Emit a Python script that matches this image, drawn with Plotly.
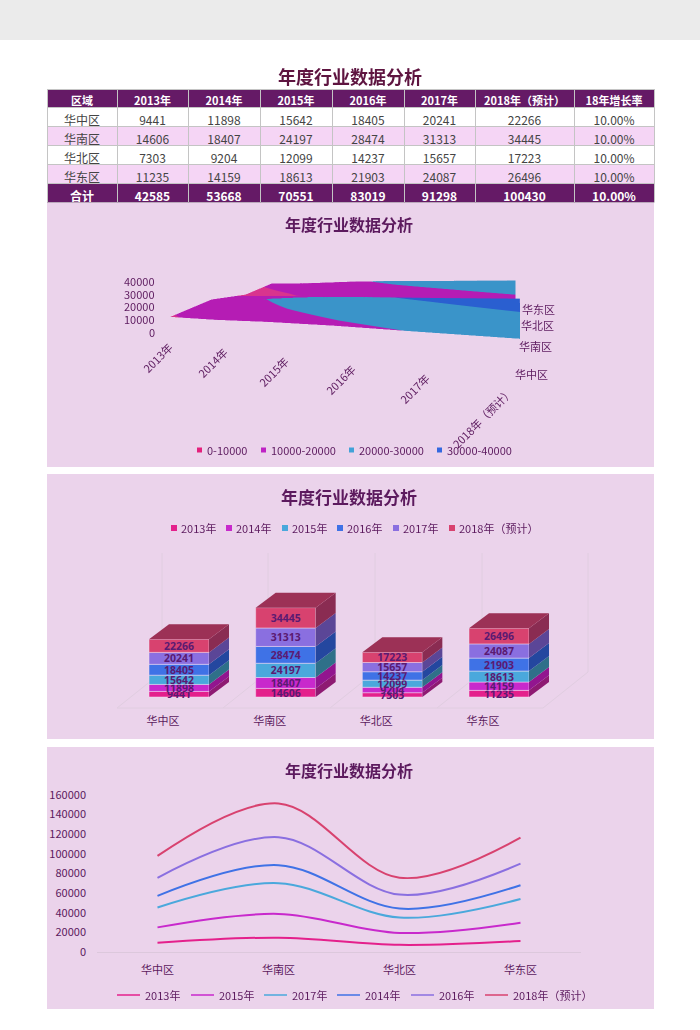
import plotly.graph_objects as go

# data read from the sheet
regions = ['华中区', '华南区', '华北区', '华东区']
years = ['2013年', '2014年', '2015年', '2016年', '2017年', '2018年（预计）']
y2013 = [9441, 14606, 7303, 11235]
y2014 = [11898, 18407, 9204, 14159]
y2015 = [15642, 24197, 12099, 18613]
y2016 = [18405, 28474, 14237, 21903]
y2017 = [20241, 31313, 15657, 24087]
y2018 = [22266, 34445, 17223, 26496]
totals = [42585, 53668, 70551, 83019, 91298, 100430]
growth = ['10.00%', '10.00%', '10.00%', '10.00%']
growth_total = '10.00%'
bands = ['0-10000', '10000-20000', '20000-30000', '30000-40000']
z_ticks = [0, 10000, 20000, 30000, 40000]
line_ticks = [0, 20000, 40000, 60000, 80000, 100000, 120000, 140000, 160000]

series = [y2013, y2014, y2015, y2016, y2017, y2018]
title_text = '年度行业数据分析'

FONT = 'Noto Sans CJK SC'
PURPLE = '#651a66'
TEXT = '#5c1a5e'
PANEL = '#ebd3eb'
GRID = '#e0cde0'
year_colors = ['#e4208c', '#c829cc', '#4aa8dc', '#3f72e6', '#8a6fe0', '#d8426f']
side_colors = ['#8e1a72', '#92158f', '#2f7089', '#24479f', '#5b4697', '#8a2c52']
top_color = '#9c3156'
band_colors = ['#d9348e', '#b51cb4', '#3a94c9', '#2a5fd0']
legend_band_colors = ['#e4207c', '#bf22c4', '#42a2d8', '#3368e0']


def px(x):
    return x / 700


def py(y):
    return 1 - y / 1030


fig = go.Figure()

# page and panels
shapes = [
    dict(type='rect', xref='paper', yref='paper', x0=0, x1=1, y0=py(40), y1=1,
         fillcolor='#ebebeb', line_width=0, layer='below'),
]
for top, bottom in [(203, 467), (474, 739), (747, 1009)]:
    shapes.append(dict(type='rect', xref='paper', yref='paper', x0=px(47), x1=px(654),
                       y0=py(bottom), y1=py(top), fillcolor=PANEL, line_width=0, layer='below'))

# floor and walls behind the columns
for xb in [162, 268, 375, 482, 588]:
    shapes.append(dict(type='line', xref='paper', yref='paper', x0=px(xb), x1=px(xb),
                       y0=py(553), y1=py(672), line=dict(color=GRID, width=1), layer='below'))
    shapes.append(dict(type='line', xref='paper', yref='paper', x0=px(xb), x1=px(xb - 45),
                       y0=py(672), y1=py(708), line=dict(color=GRID, width=1), layer='below'))
shapes.append(dict(type='line', xref='paper', yref='paper', x0=px(117), x1=px(543),
                   y0=py(708), y1=py(708), line=dict(color=GRID, width=1), layer='below'))

annotations = []


def label(x, y, text, size=11, color=TEXT, anchor='center', angle=0, bold=False):
    annotations.append(dict(xref='paper', yref='paper', x=px(x), y=py(y), text='<b>%s</b>' % text if bold else text,
                            showarrow=False, xanchor=anchor, yanchor='middle', textangle=angle,
                            font=dict(family=FONT, size=size, color=color)))


label(350, 76, title_text, size=18, bold=True, color='#5e1440')
label(349, 224, title_text, size=16, bold=True)
label(349, 496, title_text, size=17, bold=True)
label(349, 770, title_text, size=16, bold=True)

# table, the total row is a second table so it can be bold
col_widths = [70, 71, 72, 72, 72, 71, 99, 80]
header = ['区域'] + years + ['18年增长率']
cols = [regions]
for s in series:
    cols.append([str(v) for v in s])
cols.append(growth)
row_fill = ['white', '#f5d5f5', 'white', '#f5d5f5']
total_row = ['合计'] + [str(v) for v in totals] + [growth_total]
fig.add_trace(go.Table(
    domain=dict(x=[px(47), px(654)], y=[py(183.5), py(89)]),
    columnwidth=col_widths,
    header=dict(values=header, height=18.5, fill_color=PURPLE, align='center',
                line=dict(color='#c4c4c4', width=1),
                font=dict(family=FONT, size=11, color='white', weight='bold')),
    cells=dict(values=cols, height=19, align='center',
               fill_color=[row_fill] * len(cols),
               line=dict(color='#c4c4c4', width=1),
               font=dict(family=FONT, size=12, color='#444444')),
))
fig.add_trace(go.Table(
    domain=dict(x=[px(47), px(654)], y=[py(202.5), py(183.5)]),
    columnwidth=col_widths,
    header=dict(values=total_row, height=19, fill_color=PURPLE, align='center',
                line=dict(color='#c4c4c4', width=1),
                font=dict(family=FONT, size=12, color='white', weight='bold')),
))

# surface chart
z_rows = [[s[r] for s in series] for r in range(len(regions))]
stepped = []
for i, c in enumerate(band_colors):
    stepped.append([i / 4, c])
    stepped.append([(i + 1) / 4, c])
fig.add_trace(go.Surface(
    x=list(range(len(years))), y=list(range(len(regions))), z=z_rows,
    cmin=0, cmax=40000, colorscale=stepped, showscale=False,
    lighting=dict(ambient=0.9, diffuse=0.2, specular=0, roughness=1),
))
fig.update_layout(scene=dict(
    domain=dict(x=[px(47), px(653)], y=[py(467), py(203)]),
    xaxis=dict(visible=False, range=[0, 5]),
    yaxis=dict(visible=False, range=[0, 3]),
    zaxis=dict(visible=False, range=[0, 40000]),
    aspectmode='manual',
    aspectratio=dict(x=3.2909, y=1.7211, z=0.3889),
    camera=dict(eye=dict(x=1.4964, y=-2.9815, z=0.7834),
                center=dict(x=0.3983, y=-0.722, z=-0.136),
                up=dict(x=0.0143, y=0.0907, z=1)),
))
for v, yy in zip(z_ticks, [332, 319, 306, 294, 281]):
    label(157, yy, str(v), anchor='right')
for r, xx, yy in zip(regions, [531, 535, 537, 538], [374, 346, 325, 309]):
    label(xx, yy, r)
for t, xx, yy in zip(years, [157, 212, 273, 340, 414, 482], [358, 363, 372, 380, 389, 418]):
    label(xx, yy, t, angle=-45)

# legends, square or short line swatch in front of the text
for b, c, xx in zip(bands, legend_band_colors, [197, 261, 349, 437]):
    shapes.append(dict(type='rect', xref='paper', yref='paper', x0=px(xx), x1=px(xx + 5),
                       y0=py(452.5), y1=py(447.5), fillcolor=c, line_width=0))
    label(xx + 8, 450, b, anchor='left')
for t, c, xx in zip(years, year_colors, [171, 226, 282, 337, 393, 449]):
    shapes.append(dict(type='rect', xref='paper', yref='paper', x0=px(xx), x1=px(xx + 6),
                       y0=py(531), y1=py(525), fillcolor=c, line_width=0))
    label(xx + 8, 528, t, anchor='left')

# stacked columns, front face is a real bar, side and top faces share its scale
unit_x = 106.67
unit_y = 0.00059
bar_w = 60 / unit_x
depth_x = 20 / unit_x
depth_y = 15 / unit_y
xpos = list(range(len(regions)))

bottoms = [0] * len(regions)
for s, name, col, side in zip(series, years, year_colors, side_colors):
    xs, ys = [], []
    for i in xpos:
        right = i + bar_w / 2
        lo = bottoms[i]
        hi = lo + s[i]
        xs += [right, right + depth_x, right + depth_x, right, right, None]
        ys += [lo, lo + depth_y, hi + depth_y, hi, lo, None]
    fig.add_trace(go.Scatter(x=xs, y=ys, xaxis='x', yaxis='y', mode='lines', fill='toself',
                             fillcolor=side, line=dict(width=0), hoverinfo='skip', showlegend=False))
    fig.add_trace(go.Bar(x=xpos, y=s, base=bottoms[:], name=name, xaxis='x', yaxis='y', width=bar_w,
                         marker=dict(color=col, line=dict(color='#f3dff3', width=0.5)),
                         text=[str(v) for v in s], textposition='inside', insidetextanchor='middle',
                         textangle=0, constraintext='none', cliponaxis=False,
                         textfont=dict(family='Noto Sans', size=10.5, color='#5b1a72', weight='bold'),
                         showlegend=False))
    bottoms = [b + v for b, v in zip(bottoms, s)]

xs, ys = [], []
for i in xpos:
    left = i - bar_w / 2
    right = i + bar_w / 2
    top = bottoms[i]
    xs += [left, left + depth_x, right + depth_x, right, left, None]
    ys += [top, top + depth_y, top + depth_y, top, top, None]
fig.add_trace(go.Scatter(x=xs, y=ys, xaxis='x', yaxis='y', mode='lines', fill='toself',
                         fillcolor=top_color, line=dict(width=0), hoverinfo='skip', showlegend=False))

# stacked lines, the sheet stacks them in this odd order, colours go by position
line_order = [0, 2, 4, 1, 3, 5]
fig.add_trace(go.Scatter(
    x=[v for i in xpos for v in (i, i, None)],
    y=[v for t in bottoms for v in (0, t, None)],
    xaxis='x2', yaxis='y2', mode='lines', line=dict(color='#d3bfd3', width=1),
    hoverinfo='skip', showlegend=False))
for k, col, xx in zip(line_order, year_colors, [117, 191, 264, 337, 411, 485]):
    fig.add_trace(go.Scatter(x=regions, y=series[k], name=years[k], xaxis='x2', yaxis='y2',
                             mode='lines', stackgroup='one', fill='none',
                             line=dict(color=col, width=2, shape='spline', smoothing=1.0),
                             showlegend=False))
    shapes.append(dict(type='line', xref='paper', yref='paper', x0=px(xx), x1=px(xx + 23),
                       y0=py(995), y1=py(995), line=dict(color=col, width=1.5)))
    label(xx + 26, 995, years[k], anchor='left')

fig.update_layout(
    width=700, height=1030, autosize=False,
    margin=dict(l=0, r=0, t=0, b=0, autoexpand=False),
    paper_bgcolor='white', plot_bgcolor='rgba(0,0,0,0)',
    barmode='overlay', showlegend=False,
    shapes=shapes, annotations=annotations,
    font=dict(family=FONT, size=11, color=TEXT),
    xaxis=dict(domain=[px(47), px(653)], range=[(47 - 179) / unit_x, (653 - 179) / unit_x],
               tickmode='array', tickvals=[i - 16 / unit_x for i in xpos], ticktext=regions,
               showgrid=False, zeroline=False, showline=False, ticks='', anchor='y',
               tickfont=dict(family=FONT, size=11, color=TEXT)),
    yaxis=dict(domain=[py(713), py(540)], range=[-16 / unit_y, 157 / unit_y], visible=False, anchor='x'),
    xaxis2=dict(domain=[px(97), px(581)], range=[-0.5, 3.5], type='category',
                categoryorder='array', categoryarray=regions, showgrid=False, zeroline=False,
                showline=True, linecolor='#dcc8dc', linewidth=1, ticks='', ticklabelstandoff=8, anchor='y2',
                tickfont=dict(family=FONT, size=11, color=TEXT)),
    yaxis2=dict(domain=[py(952), py(795)], range=[0, 160000], tickmode='array', tickvals=line_ticks,
                tickformat='d', showgrid=False, zeroline=False, showline=False, ticks='',
                ticklabelstandoff=10, anchor='x2', tickfont=dict(family=FONT, size=11, color=TEXT)),
)

# page has a default margin that would push the figure off the window
fix_page = ("document.documentElement.style.overflow='hidden';document.body.style.margin='0';"
            "var gd=document.getElementById('{plot_id}');gd.style.position='absolute';"
            "gd.style.left='0';gd.style.top='0';")
fig.write_html("out.html", config={'displayModeBar': False}, post_script=fix_page)
